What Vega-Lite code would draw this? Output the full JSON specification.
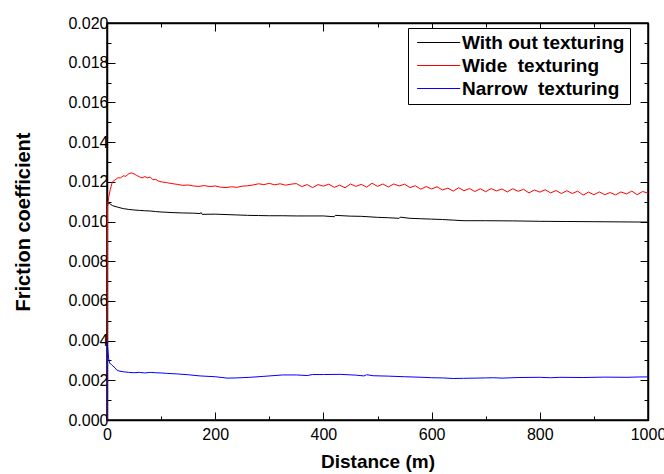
{
  "$schema": "https://vega.github.io/schema/vega-lite/v6.json",
  "width": 541,
  "height": 397,
  "autosize": {"type": "none"},
  "padding": {"left": 107, "top": 23, "right": 16, "bottom": 54},
  "background": "white",
  "datasets": {
    "without": [
      {"d":0,"f":0},{"d":0.5,"f":0.006},{"d":1,"f":0.0108},{"d":2,"f":0.01095},{"d":5,"f":0.0109},{"d":10,"f":0.0108},{"d":20,"f":0.01072},{"d":30,"f":0.01065},{"d":40,"f":0.01061},{"d":50,"f":0.01058},{"d":60,"f":0.01056},{"d":70,"f":0.01054},{"d":80,"f":0.01053},{"d":90,"f":0.0105},{"d":100,"f":0.01048},{"d":120,"f":0.01045},{"d":140,"f":0.01043},{"d":160,"f":0.01042},{"d":172,"f":0.0104},{"d":174,"f":0.01045},{"d":176,"f":0.01036},{"d":200,"f":0.01037},{"d":220,"f":0.01035},{"d":240,"f":0.01033},{"d":260,"f":0.01031},{"d":280,"f":0.0103},{"d":300,"f":0.01029},{"d":325,"f":0.01029},{"d":350,"f":0.01028},{"d":400,"f":0.01028},{"d":420,"f":0.01024},{"d":422,"f":0.01031},{"d":450,"f":0.01027},{"d":470,"f":0.01026},{"d":500,"f":0.01021},{"d":520,"f":0.01019},{"d":540,"f":0.01016},{"d":542,"f":0.01022},{"d":560,"f":0.01016},{"d":580,"f":0.01014},{"d":600,"f":0.01012},{"d":620,"f":0.0101},{"d":640,"f":0.01007},{"d":660,"f":0.01004},{"d":700,"f":0.01004},{"d":750,"f":0.01003},{"d":800,"f":0.01001},{"d":850,"f":0.01},{"d":900,"f":0.00999},{"d":950,"f":0.00998},{"d":1000,"f":0.00997}
    ],
    "wide": [
      {"d":0,"f":0},{"d":0.5,"f":0.006},{"d":1,"f":0.0108},{"d":3,"f":0.0112},{"d":6,"f":0.0116},{"d":10,"f":0.012},{"d":15,"f":0.0121},{"d":20,"f":0.0122},{"d":25,"f":0.0122},{"d":30,"f":0.0123},{"d":35,"f":0.01228},{"d":40,"f":0.0124},{"d":45,"f":0.01245},{"d":50,"f":0.0124},{"d":55,"f":0.01232},{"d":60,"f":0.01225},{"d":65,"f":0.0122},{"d":70,"f":0.01226},{"d":75,"f":0.0122},{"d":80,"f":0.01224},{"d":85,"f":0.0121},{"d":90,"f":0.01212},{"d":95,"f":0.01204},{"d":100,"f":0.012},
      {"d":110,"f":0.01196},{"d":120,"f":0.01191},{"d":130,"f":0.01187},{"d":140,"f":0.01182},{"d":150,"f":0.01184},{"d":160,"f":0.01179},{"d":170,"f":0.01177},{"d":180,"f":0.01181},{"d":190,"f":0.01176},{"d":200,"f":0.01179},{"d":210,"f":0.01173},{"d":220,"f":0.01171},{"d":230,"f":0.01175},{"d":240,"f":0.01172},{"d":250,"f":0.01178},{"d":260,"f":0.0118},{"d":270,"f":0.01184},{"d":280,"f":0.0119},{"d":290,"f":0.01186},{"d":300,"f":0.01192},{"d":310,"f":0.01185},{"d":320,"f":0.0119},{"d":330,"f":0.01183},{"d":340,"f":0.01188},
      {"d":350,"f":0.01191},{"d":360,"f":0.01176},{"d":370,"f":0.01186},{"d":380,"f":0.01171},{"d":390,"f":0.01186},{"d":400,"f":0.01178},{"d":410,"f":0.01188},{"d":420,"f":0.01172},{"d":430,"f":0.01183},{"d":440,"f":0.0117},{"d":450,"f":0.01189},{"d":460,"f":0.01177},{"d":470,"f":0.01187},{"d":480,"f":0.01173},{"d":490,"f":0.01193},{"d":500,"f":0.01177},{"d":510,"f":0.01189},{"d":520,"f":0.01174},{"d":530,"f":0.01189},{"d":540,"f":0.01179},{"d":550,"f":0.01188},{"d":560,"f":0.01171},{"d":570,"f":0.0118},{"d":580,"f":0.01163},{"d":590,"f":0.01176},{"d":600,"f":0.01164},{"d":610,"f":0.01175},{"d":620,"f":0.01159},{"d":630,"f":0.01168},{"d":640,"f":0.01153},{"d":650,"f":0.0117},{"d":660,"f":0.01155},{"d":670,"f":0.01166},{"d":680,"f":0.01151},{"d":690,"f":0.01165},{"d":700,"f":0.0115},{"d":710,"f":0.01166},{"d":720,"f":0.01154},{"d":730,"f":0.01164},{"d":740,"f":0.01149},{"d":750,"f":0.01165},{"d":760,"f":0.01152},{"d":770,"f":0.01162},{"d":780,"f":0.01144},{"d":790,"f":0.01159},{"d":800,"f":0.01148},{"d":810,"f":0.0116},{"d":820,"f":0.01144},{"d":830,"f":0.01156},{"d":840,"f":0.01141},{"d":850,"f":0.01155},{"d":860,"f":0.01141},{"d":870,"f":0.01153},{"d":880,"f":0.01133},{"d":890,"f":0.01148},{"d":900,"f":0.01135},{"d":910,"f":0.01149},{"d":920,"f":0.01135},{"d":930,"f":0.01146},{"d":940,"f":0.01134},{"d":950,"f":0.01149},{"d":960,"f":0.01139},{"d":970,"f":0.01153},{"d":980,"f":0.01135},{"d":990,"f":0.01151},{"d":1000,"f":0.01143}
    ],
    "narrow": [
      {"d":0,"f":0},{"d":0.5,"f":0.0039},{"d":1,"f":0.0037},{"d":3,"f":0.0031},{"d":5,"f":0.00286},{"d":8,"f":0.0028},{"d":11,"f":0.00272},{"d":15,"f":0.00262},{"d":18,"f":0.00252},{"d":22,"f":0.00247},{"d":30,"f":0.00243},{"d":40,"f":0.0024},{"d":50,"f":0.00238},{"d":60,"f":0.0024},{"d":70,"f":0.00237},{"d":80,"f":0.0024},{"d":90,"f":0.00238},{"d":100,"f":0.00237},{"d":110,"f":0.00235},{"d":130,"f":0.00232},{"d":150,"f":0.00228},{"d":172,"f":0.00222},{"d":200,"f":0.00218},{"d":222,"f":0.00211},{"d":240,"f":0.00212},{"d":264,"f":0.00215},{"d":290,"f":0.0022},{"d":325,"f":0.00227},{"d":350,"f":0.00227},{"d":370,"f":0.00224},{"d":380,"f":0.00229},{"d":400,"f":0.00229},{"d":431,"f":0.0023},{"d":460,"f":0.00226},{"d":475,"f":0.00222},{"d":480,"f":0.00228},{"d":492,"f":0.00223},{"d":520,"f":0.00221},{"d":550,"f":0.00218},{"d":584,"f":0.00215},{"d":600,"f":0.00213},{"d":620,"f":0.00212},{"d":640,"f":0.00209},{"d":659,"f":0.0021},{"d":700,"f":0.00212},{"d":714,"f":0.00213},{"d":730,"f":0.00211},{"d":760,"f":0.00214},{"d":800,"f":0.00215},{"d":820,"f":0.00213},{"d":837,"f":0.00215},{"d":880,"f":0.00214},{"d":920,"f":0.00216},{"d":961,"f":0.00215},{"d":985,"f":0.00217},{"d":1000,"f":0.00217}
    ]
  },
  "layer": [
    {
      "data": {"name": "without"},
      "mark": {"type": "line", "strokeWidth": 1, "clip": true},
      "encoding": {
        "x": {"field": "d", "type": "quantitative", "scale": {"domain": [0, 1000], "nice": false},
          "axis": {"orient": "bottom", "values": [0,100,200,300,400,500,600,700,800,900,1000], "format": "d",
            "labelExpr": "datum.value % 200 === 0 ? datum.label : ''",
            "ticks": true,
            "tickSize": {"condition": {"test": "datum.value % 200 === 0", "value": -8}, "value": -4},
            "labelPadding": 14, "labelFlush": false, "labelOverlap": false,
            "title": "Distance (m)", "titlePadding": 6, "titleFontSize": 19}},
        "y": {"field": "f", "type": "quantitative", "scale": {"domain": [0, 0.02], "nice": false, "zero": false},
          "axis": {"orient": "left", "values": [0,0.001,0.002,0.003,0.004,0.005,0.006,0.007,0.008,0.009,0.01,0.011,0.012,0.013,0.014,0.015,0.016,0.017,0.018,0.019,0.02], "format": ".3f",
            "labelExpr": "round(datum.value*1000) % 2 === 0 ? datum.label : ''",
            "ticks": true,
            "tickSize": {"condition": {"test": "round(datum.value*1000) % 2 === 0", "value": -8}, "value": -4},
            "labelPadding": 7, "labelFlush": false, "labelOverlap": false,
            "title": "Friction coefficient", "titlePadding": 34, "titleFontSize": 20}},
        "color": {"datum": "With out texturing", "type": "nominal",
          "scale": {"domain": ["With out texturing", "Wide  texturing", "Narrow  texturing"], "range": ["#000000", "#ff0000", "#0000ff"]},
          "legend": {"orient": "none", "legendX": 301, "legendY": 5, "title": null,
            "strokeColor": "black", "fillColor": "white", "padding": 5,
            "symbolType": "M-1,0H7", "symbolSize": 116, "symbolStrokeWidth": 1,
            "labelOffset": 30, "labelFont": "Liberation Sans", "labelFontSize": 19, "labelFontWeight": "bold", "labelColor": "black",
            "rowPadding": 3, "labelLimit": 400,
            "labelExpr": "replace(datum.label, '  ', '\u00a0 ')",
            "encode": {"symbols": {"update": {"stroke": {"scale": "color", "field": "value"}, "fill": {"value": "transparent"}}}}}}
      }
    },
    {
      "data": {"name": "wide"},
      "mark": {"type": "line", "strokeWidth": 1, "clip": true},
      "encoding": {
        "x": {"field": "d", "type": "quantitative", "axis": null},
        "y": {"field": "f", "type": "quantitative", "axis": null},
        "color": {"datum": "Wide  texturing", "type": "nominal"}
      }
    },
    {
      "data": {"name": "narrow"},
      "mark": {"type": "line", "strokeWidth": 1, "clip": true},
      "encoding": {
        "x": {"field": "d", "type": "quantitative", "axis": null},
        "y": {"field": "f", "type": "quantitative", "axis": null},
        "color": {"datum": "Narrow  texturing", "type": "nominal"}
      }
    },
    {
      "data": {"name": "without"},
      "mark": {"type": "line", "strokeWidth": 1, "opacity": 0},
      "encoding": {
        "x": {"field": "d", "type": "quantitative",
          "axis": {"orient": "top", "values": [0,100,200,300,400,500,600,700,800,900,1000], "labels": false, "title": null, "ticks": true,
            "tickSize": {"condition": {"test": "datum.value % 200 === 0", "value": -8}, "value": -4}}},
        "y": {"field": "f", "type": "quantitative",
          "axis": {"orient": "right", "values": [0,0.001,0.002,0.003,0.004,0.005,0.006,0.007,0.008,0.009,0.01,0.011,0.012,0.013,0.014,0.015,0.016,0.017,0.018,0.019,0.02], "labels": false, "title": null, "ticks": true,
            "tickSize": {"condition": {"test": "round(datum.value*1000) % 2 === 0", "value": -8}, "value": -4}}}
      }
    }
  ],
  "resolve": {"axis": {"x": "independent", "y": "independent"}},
  "config": {
    "view": {"stroke": "black", "strokeWidth": 1.5},
    "axis": {"grid": false, "domainColor": "black", "domainWidth": 1.5, "tickColor": "black", "tickWidth": 1,
      "labelColor": "black", "labelFont": "Liberation Sans", "labelFontSize": 16,
      "titleFont": "Liberation Sans", "titleFontSize": 18, "titleFontWeight": "bold", "titleColor": "black"}
  }
}
